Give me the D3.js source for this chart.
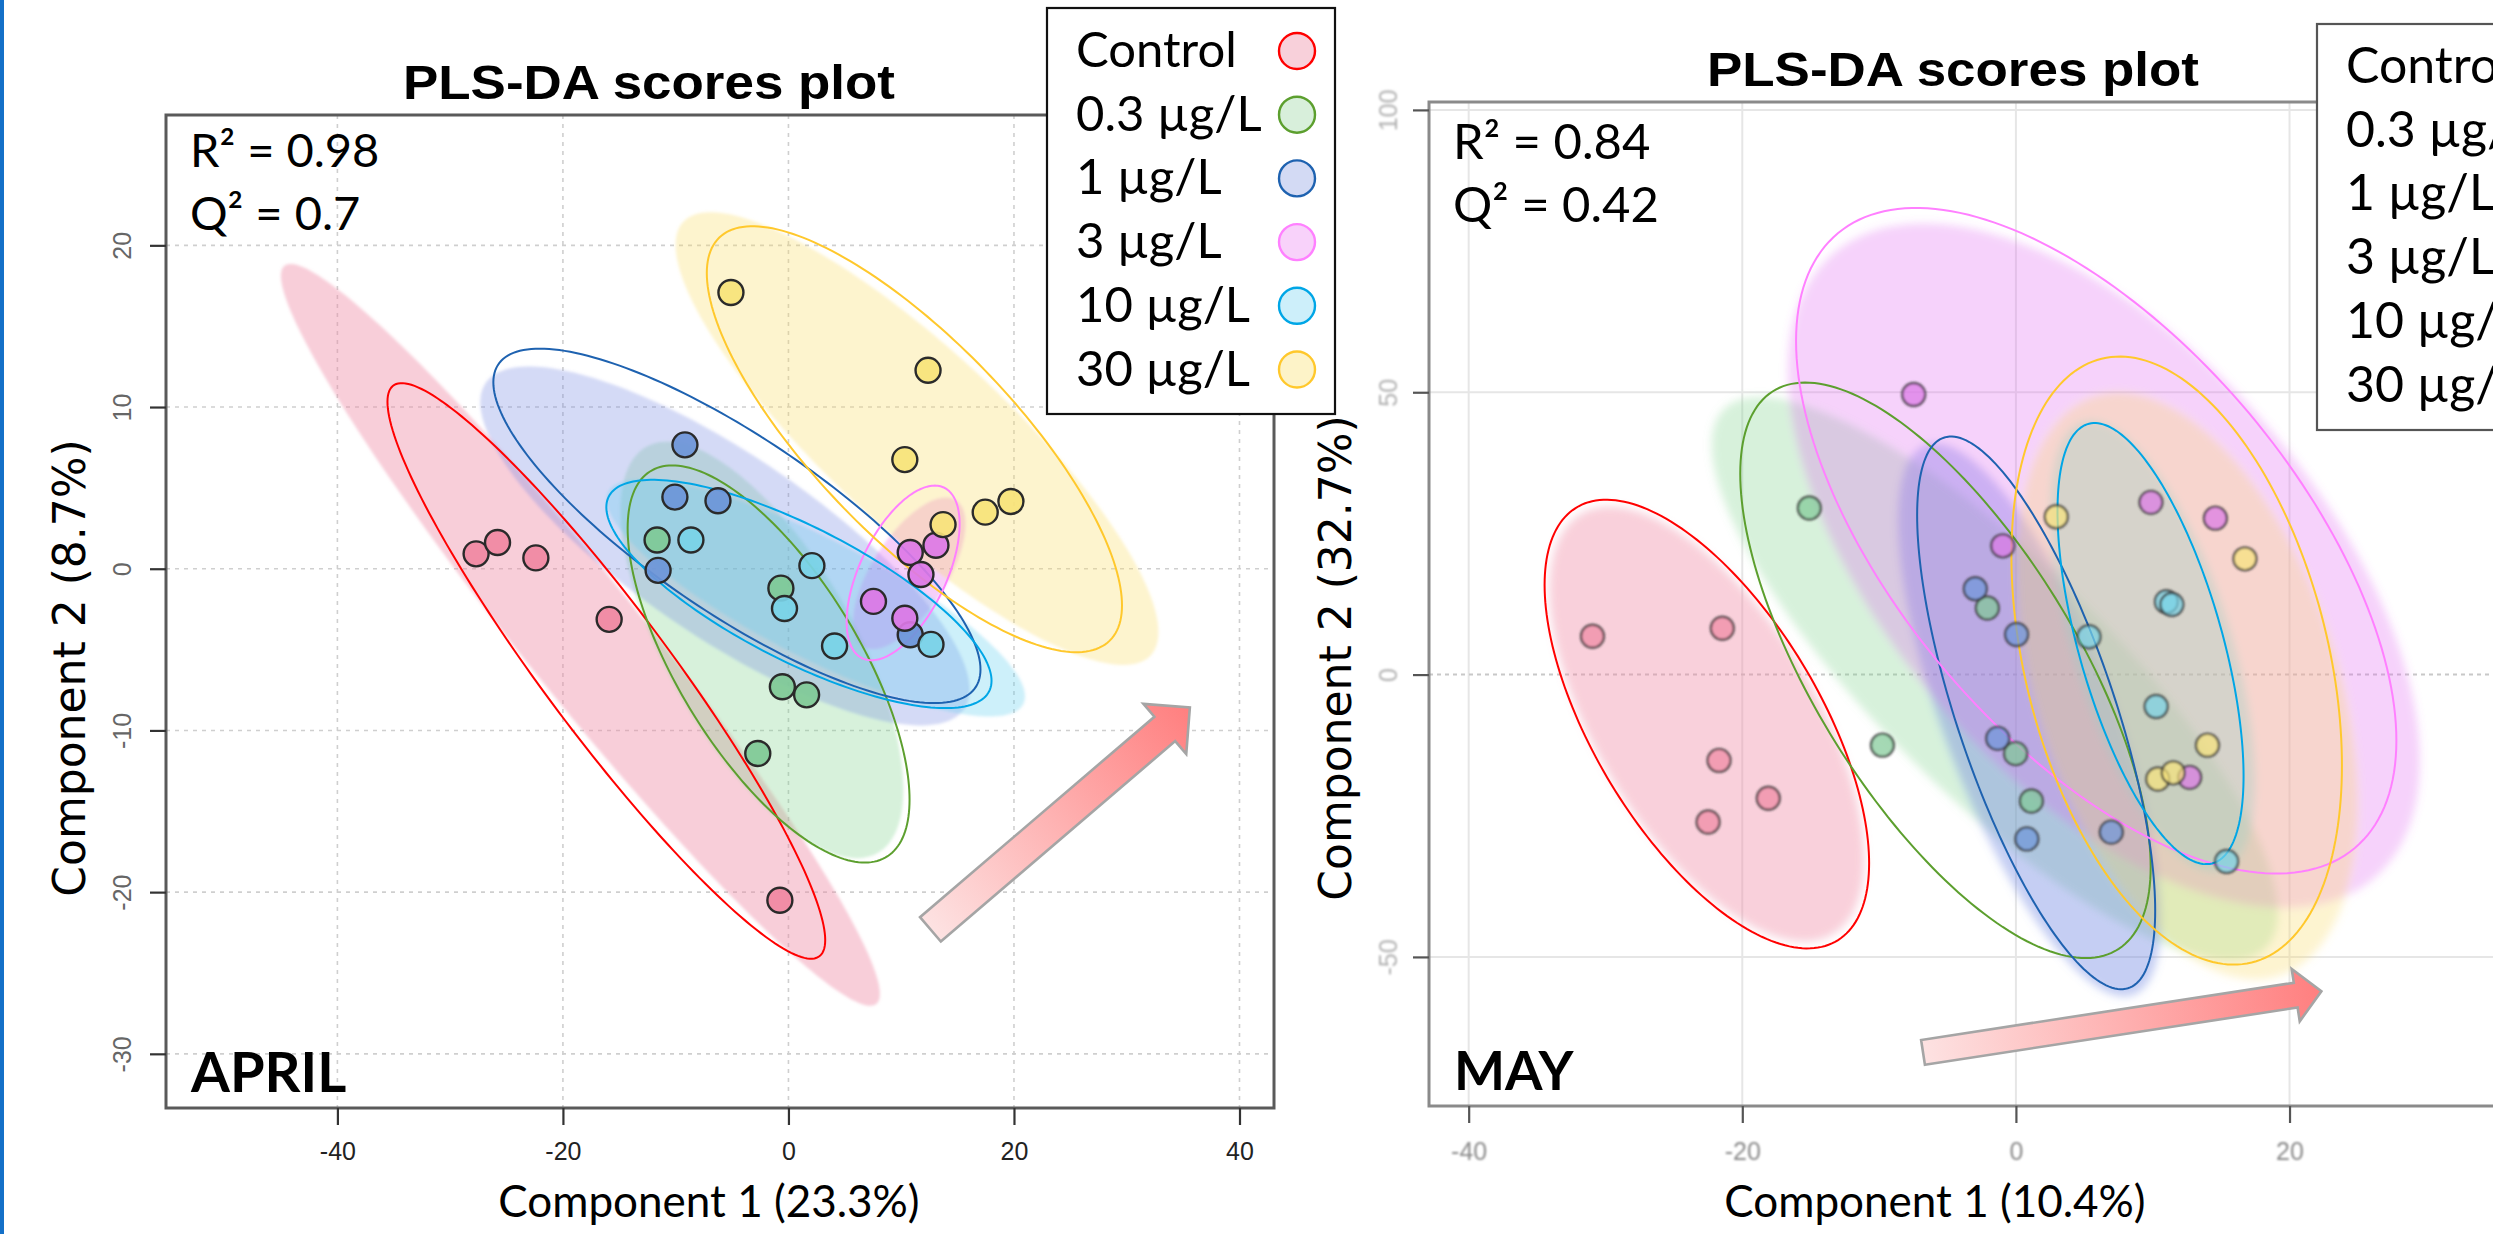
<!DOCTYPE html>
<html>
<head>
<meta charset="utf-8">
<script src="https://cdnjs.cloudflare.com/ajax/libs/d3/7.8.5/d3.min.js"></script>
<style>
  html, body { margin: 0; padding: 0; background: #fff; overflow: hidden; }
  svg { display: block; }
</style>
</head>
<body>
<svg id="chart" width="2493" height="1234"></svg>
<script>
// ---------- data ----------
const groups = ["Control", "0.3 µg/L", "1 µg/L", "3 µg/L", "10 µg/L", "30 µg/L"];

// April PLS-DA scores: [component 1, component 2]
const aprilControl = [[-27.7, 0.92], [-25.8, 1.62], [-22.4, 0.67], [-15.9, -3.13], [-0.76, -20.5]];
const april03 = [[-11.65, 1.78], [-0.67, -1.2], [-0.54, -7.3], [1.61, -7.8], [-2.72, -11.43]];
const april1 = [[-9.18, 7.66], [-10.07, 4.43], [-6.25, 4.2], [-11.56, -0.1], [10.8, -4.08]];
const april3 = [[13.08, 1.45], [10.8, 1.0], [11.75, -0.36], [7.54, -2.02], [10.32, -3.06]];
const april10 = [[-8.65, 1.78], [2.08, 0.19], [-0.35, -2.46], [4.09, -4.78], [12.64, -4.68]];
const april30 = [[-5.1, 17.08], [12.38, 12.27], [10.32, 6.75], [17.45, 3.5], [19.73, 4.16], [13.71, 2.73]];

// May PLS-DA scores
const mayControl = [[-30.95, 6.8], [-21.46, 8.2], [-21.7, -15.2], [-18.1, -21.9], [-22.5, -26.1]];
const may03 = [[-15.1, 29.5], [-9.76, -12.5], [-2.09, 11.8], [-0.02, -14.0], [1.13, -22.4]];
const may1 = [[-2.97, 15.2], [0.05, 7.1], [-1.33, -11.3], [0.8, -29.1], [6.97, -27.9]];
const may3 = [[-7.47, 49.6], [-0.96, 22.8], [9.87, 30.5], [14.58, 27.7], [12.7, -18.2]];
const may10 = [[11.0, 12.9], [11.4, 12.4], [5.34, 6.7], [10.25, -5.66], [15.4, -33.1]];
const may30 = [[2.95, 27.96], [16.74, 20.5], [14.0, -12.5], [10.37, -18.5], [11.5, -17.4]];

// Confidence regions per group: [centre c1, centre c2, half-extent c1, half-extent c2, correlation]
const aprilRegionShade = [
  [-18.45, -4.09, 26.56, 22.94, -0.968],
  [-2.35, -5.02, 12.54, 12.88, -0.67],
  [-5.63, 1.41, 21.7, 11.1, -0.80],
  [10.72, -0.28, 4.99, 4.69, 0.65],
  [2.42, -1.81, 18.56, 7.33, -0.83],
  [11.4, 8.05, 21.41, 14.0, -0.855]
];
const aprilRegionLine = [
  [-16.15, -6.32, 19.41, 17.8, -0.935],
  [-1.76, -5.89, 12.5, 12.28, -0.683],
  [-4.57, 2.65, 21.6, 10.96, -0.81],
  [10.17, -0.26, 5.01, 5.4, 0.56],
  [0.93, -1.56, 17.08, 7.06, -0.76],
  [11.17, 8.01, 18.41, 13.17, -0.78]
];
const mayRegionShade = [
  [-22.59, -8.76, 11.5, 38.5, -0.62],
  [-1.54, -0.71, 20.7, 49.9, -0.83],
  [1.0, -8.0, 9.6, 49.0, -0.72],
  [6.43, 19.3, 23.1, 60.6, -0.57],
  [10.0, 5.0, 7.5, 40.0, -0.6],
  [12.5, -2.0, 12.5, 52.0, -0.4]
];
const mayRegionLine = [
  [-22.59, -8.76, 11.86, 39.73, -0.62],
  [-5.15, 0.76, 15.0, 50.96, -0.683],
  [1.48, -6.78, 8.7, 48.94, -0.715],
  [5.87, 23.7, 21.94, 58.94, -0.6],
  [9.84, 5.49, 6.8, 39.06, -0.6],
  [11.75, 2.48, 12.08, 53.84, -0.345]
];

// trend arrows (from, to) in score units
const aprilTrend = [[12.59, -22.3], [35.6, -8.58]];
const mayTrend = [[-6.79, -66.9], [22.33, -56.07]];

const xTicksApril = [-40, -20, 0, 20, 40];
const yTicksApril = [-30, -20, -10, 0, 10, 20];
const xTicksMay = [-40, -20, 0, 20];
const yTicksMay = [-50, 0, 50, 100];

const aprilStats = ["R² = 0.98", "Q² = 0.7"];
const mayStats = ["R² = 0.84", "Q² = 0.42"];

// ---------- styles ----------
const lineColors = ["#ff0000", "#5c9f2e", "#1e62b0", "#ff80ff", "#00a6e6", "#ffc82c"];
const shadeColors = ["#ef8aa5", "#7ccf88", "#6f84e0", "#e060f0", "#5ccdf0", "#f8dc66"];
const dotColors = ["#f088a2", "#7fc996", "#6c95d8", "#dc78e6", "#79d3e7", "#f7e37a"];
const legendFill = ["#f8d0da", "#d8efdb", "#d3daf4", "#f8d2fa", "#cdeffa", "#fdf3c8"];

const svg = d3.select("#chart");
const defs = svg.append("defs");

function blurFilter(id, sd) {
  const f = defs.append("filter").attr("id", id)
    .attr("filterUnits", "userSpaceOnUse")
    .attr("x", -5000).attr("y", -5000).attr("width", 10000).attr("height", 10000);
  f.append("feGaussianBlur").attr("stdDeviation", sd);
}
blurFilter("softA", 1.6);
blurFilter("softM", 4.5);
blurFilter("hazeM", 0.9);
blurFilter("hazeT", 0.8);

svg.append("rect").attr("x", 0).attr("y", 0).attr("width", 2493).attr("height", 1234).attr("fill", "#fff");
svg.append("rect").attr("x", 0).attr("y", 0).attr("width", 4).attr("height", 1234).attr("fill", "#1470c8");

function regionPath(e, x, y) {
  const [cx, cy, sx, sy, r] = e;
  const k = Math.sqrt(1 - r * r);
  const pts = d3.range(0, 200).map(i => {
    const t = i / 200 * 2 * Math.PI;
    return [x(cx + sx * Math.cos(t)), y(cy + sy * (r * Math.cos(t) + k * Math.sin(t)))];
  });
  return d3.line().curve(d3.curveLinearClosed)(pts);
}

function arrowPath(a, x, y, shaftHalf, headLen, headHalf) {
  const x0 = x(a[0][0]), y0 = y(a[0][1]), x1 = x(a[1][0]), y1 = y(a[1][1]);
  const dx = x1 - x0, dy = y1 - y0, L = Math.hypot(dx, dy);
  const ux = dx / L, uy = dy / L, nx = -uy, ny = ux;
  const bx = x1 - ux * headLen, by = y1 - uy * headLen;
  const pts = [
    [x0 + nx * shaftHalf, y0 + ny * shaftHalf],
    [bx + nx * shaftHalf, by + ny * shaftHalf],
    [bx + nx * headHalf, by + ny * headHalf],
    [x1, y1],
    [bx - nx * headHalf, by - ny * headHalf],
    [bx - nx * shaftHalf, by - ny * shaftHalf],
    [x0 - nx * shaftHalf, y0 - ny * shaftHalf]
  ];
  return { d: "M" + pts.map(p => p.join(",")).join("L") + "Z", x0, y0, x1, y1 };
}

function drawPanel(p) {
  const x = d3.scaleLinear().domain(p.xDomain).range([p.left, p.right]);
  const y = d3.scaleLinear().domain(p.yDomain).range([p.bottom, p.top]);
  const g = svg.append("g");

  defs.append("clipPath").attr("id", "clip-" + p.id)
    .append("rect").attr("x", p.left).attr("y", p.top)
    .attr("width", p.right - p.left).attr("height", p.bottom - p.top);

  // grid
  const grid = g.append("g");
  grid.selectAll("line.gx").data(p.xTicks).join("line").attr("class", "gx")
    .attr("x1", d => x(d)).attr("x2", d => x(d)).attr("y1", p.top).attr("y2", p.bottom)
    .attr("stroke", p.gridColor).attr("stroke-width", p.gridWidth).attr("stroke-dasharray", p.gridDash);
  grid.selectAll("line.gy").data(p.yTicks).join("line").attr("class", "gy")
    .attr("y1", d => y(d)).attr("y2", d => y(d)).attr("x1", p.left).attr("x2", p.right)
    .attr("stroke", d => (p.zeroDash && d === 0) ? "#c8c8c8" : p.gridColor)
    .attr("stroke-width", p.gridWidth)
    .attr("stroke-dasharray", d => (p.zeroDash && d === 0) ? "4,4" : p.gridDash);

  const plot = g.append("g").attr("clip-path", `url(#clip-${p.id})`);

  // shaded regions
  const shade = plot.append("g").attr("filter", `url(#${p.shadeFilter})`);
  shade.selectAll("path").data(p.shade).join("path")
    .attr("d", e => regionPath(e, x, y))
    .attr("fill", (e, i) => shadeColors[i])
    .attr("fill-opacity", (e, i) => p.shadeAlpha[i]);

  // outlined regions
  plot.append("g").selectAll("path").data(p.lines).join("path")
    .attr("d", e => regionPath(e, x, y))
    .attr("fill", "none")
    .attr("stroke", (e, i) => lineColors[i])
    .attr("stroke-width", p.lineWidth);

  // scores
  const pts = plot.append("g");
  if (p.pointFilter) pts.attr("filter", `url(#${p.pointFilter})`);
  p.scores.forEach((set, gi) => {
    pts.append("g").selectAll("circle").data(set).join("circle")
      .attr("cx", d => x(d[0])).attr("cy", d => y(d[1]))
      .attr("r", p.pointR)
      .attr("fill", dotColors[gi]).attr("fill-opacity", p.pointAlpha)
      .attr("stroke", p.pointStroke).attr("stroke-width", 2.4)
      .attr("stroke-opacity", p.pointStrokeAlpha);
  });

  // trend arrow
  const a = arrowPath(p.trend, x, y, p.arrow[0], p.arrow[1], p.arrow[2]);
  const grad = defs.append("linearGradient").attr("id", "grad-" + p.id)
    .attr("gradientUnits", "userSpaceOnUse")
    .attr("x1", a.x0).attr("y1", a.y0).attr("x2", a.x1).attr("y2", a.y1);
  grad.append("stop").attr("offset", "0%").attr("stop-color", "#fde2e2");
  grad.append("stop").attr("offset", "100%").attr("stop-color", "#ff7f7f");
  g.append("path").attr("d", a.d).attr("fill", `url(#grad-${p.id})`)
    .attr("stroke", "#a5a5a5").attr("stroke-width", 2.6).attr("stroke-linejoin", "miter");

  // frame
  g.append("rect").attr("x", p.left).attr("y", p.top)
    .attr("width", p.right - p.left).attr("height", p.bottom - p.top)
    .attr("fill", "none").attr("stroke", p.frameColor).attr("stroke-width", 3);

  // axes
  const xa = g.append("g").attr("transform", `translate(0,${p.bottom})`)
    .call(d3.axisBottom(x).tickValues(p.xTicks).tickSize(17).tickFormat(d => String(d)));
  xa.select(".domain").remove();
  xa.selectAll(".tick line").attr("stroke", p.tickColor).attr("stroke-width", 2.2);
  xa.selectAll("text").attr("y", p.xLabelOff).attr("dy", 0)
    .attr("font-family", "'Liberation Sans', Arial, sans-serif").attr("font-size", 25)
    .attr("fill", p.xTickText);

  const ya = g.append("g").attr("transform", `translate(${p.left},0)`)
    .call(d3.axisLeft(y).tickValues(p.yTicks).tickSize(16).tickFormat(d => String(d)));
  ya.select(".domain").remove();
  ya.selectAll(".tick line").attr("stroke", p.tickColor).attr("stroke-width", 2.2);
  ya.selectAll("text").attr("x", 0).attr("y", 0).attr("dy", 0)
    .attr("transform", `translate(${-p.yLabelOff},0) rotate(-90)`)
    .attr("text-anchor", "middle")
    .attr("font-family", "'Liberation Sans', Arial, sans-serif").attr("font-size", 25)
    .attr("fill", p.yTickText);
  if (p.tickFilter) {
    xa.selectAll("text").attr("filter", `url(#${p.tickFilter})`);
    ya.selectAll("text").attr("filter", `url(#${p.tickFilter})`);
  }

  // titles and labels
  g.append("text").attr("x", p.titleX).attr("y", p.titleY).attr("text-anchor", "middle")
    .attr("font-family", "'Liberation Sans', Arial, sans-serif").attr("font-weight", "bold")
    .attr("font-size", 49).attr("textLength", 492).attr("lengthAdjust", "spacingAndGlyphs")
    .text("PLS-DA scores plot");

  g.selectAll("text.stat").data(p.stats).join("text").attr("class", "stat")
    .attr("x", p.left + 24).attr("y", (d, i) => p.statY + i * 63)
    .attr("font-family", "Lato, 'Open Sans', sans-serif").attr("font-size", p.statSize)
    .text(d => d);

  g.append("text").attr("x", p.left + 25).attr("y", p.bottom - 16)
    .attr("font-family", "Lato, 'Open Sans', sans-serif").attr("font-weight", 700)
    .attr("font-size", p.monthSize).text(p.month);

  g.append("text").attr("x", p.xTitleX).attr("y", 1217).attr("text-anchor", "middle")
    .attr("font-family", "Lato, 'Open Sans', sans-serif").attr("font-size", 44)
    .text(p.xTitle);

  g.append("text").attr("transform", `translate(${p.yTitleX},${p.yTitleY}) rotate(-90)`)
    .attr("text-anchor", "middle")
    .attr("font-family", "'DejaVu Sans', Verdana, sans-serif").attr("font-size", 44)
    .text(p.yTitle);

  // legend
  const lg = g.append("g");
  lg.append("rect").attr("x", p.legend[0]).attr("y", p.legend[1])
    .attr("width", p.legend[2]).attr("height", p.legend[3])
    .attr("fill", "#fff").attr("stroke", p.legendStroke).attr("stroke-width", 2.2);
  const items = lg.selectAll("g.item").data(groups).join("g").attr("class", "item")
    .attr("transform", (d, i) => `translate(${p.legend[0]},${p.legendBase + i * 63.7})`);
  items.append("text").attr("x", 29).attr("y", 0)
    .attr("font-family", "Lato, 'Open Sans', sans-serif").attr("font-size", p.legendSize)
    .text(d => d);
  items.append("circle").attr("cx", 250).attr("cy", -16).attr("r", 18)
    .attr("fill", (d, i) => legendFill[i]).attr("stroke", (d, i) => lineColors[i]).attr("stroke-width", 2.4);
}

drawPanel({
  id: "april", month: "APRIL", monthSize: 56,
  left: 166, right: 1274, top: 115, bottom: 1108,
  xDomain: [-55.2, 43.06], yDomain: [-33.35, 28.06],
  xTicks: xTicksApril, yTicks: yTicksApril,
  gridColor: "#cfcfcf", gridWidth: 1.6, gridDash: "4,5", zeroDash: false,
  shade: aprilRegionShade, lines: aprilRegionLine,
  shadeAlpha: [0.42, 0.30, 0.30, 0.30, 0.30, 0.32],
  shadeFilter: "softA", lineWidth: 2,
  scores: [aprilControl, april03, april1, april3, april10, april30],
  pointR: 12.5, pointAlpha: 0.92, pointStroke: "#2a2a2a", pointStrokeAlpha: 1,
  trend: aprilTrend, arrow: [16, 33, 33],
  frameColor: "#5a5a5a", tickColor: "#333", xTickText: "#222", yTickText: "#666",
  xLabelOff: 52, yLabelOff: 35,
  titleX: 649, titleY: 99, stats: aprilStats, statY: 167, statSize: 47,
  xTitle: "Component 1 (23.3%)", xTitleX: 709,
  yTitle: "Component 2 (8.7%)", yTitleX: 85, yTitleY: 668,
  legend: [1047, 8, 288, 406], legendBase: 67, legendStroke: "#111", legendSize: 49
});

drawPanel({
  id: "may", month: "MAY", monthSize: 54,
  left: 1429, right: 2560, top: 102, bottom: 1106,
  xDomain: [-42.9, 39.77], yDomain: [-76.4, 101.4],
  xTicks: xTicksMay, yTicks: yTicksMay,
  gridColor: "#e6e6e6", gridWidth: 2, gridDash: null, zeroDash: true,
  shade: mayRegionShade, lines: mayRegionLine,
  shadeAlpha: [0.40, 0.30, 0.40, 0.28, 0.30, 0.30],
  shadeFilter: "softM", lineWidth: 2,
  scores: [mayControl, may03, may1, may3, may10, may30],
  pointR: 11.5, pointAlpha: 0.7, pointStroke: "#333", pointStrokeAlpha: 0.75, pointFilter: "hazeM",
  trend: mayTrend, arrow: [12.5, 26, 26.5],
  frameColor: "#8a8a8a", tickColor: "#555", xTickText: "#8a8a8a", yTickText: "#b0b0b0", tickFilter: "hazeT",
  xLabelOff: 54, yLabelOff: 32,
  titleX: 1953, titleY: 86, stats: mayStats, statY: 159, statSize: 49,
  xTitle: "Component 1 (10.4%)", xTitleX: 1935,
  yTitle: "Component 2 (32.7%)", yTitleX: 1351, yTitleY: 658,
  legend: [2317, 24, 300, 406], legendBase: 83, legendStroke: "#555", legendSize: 50
});
</script>
</body>
</html>
